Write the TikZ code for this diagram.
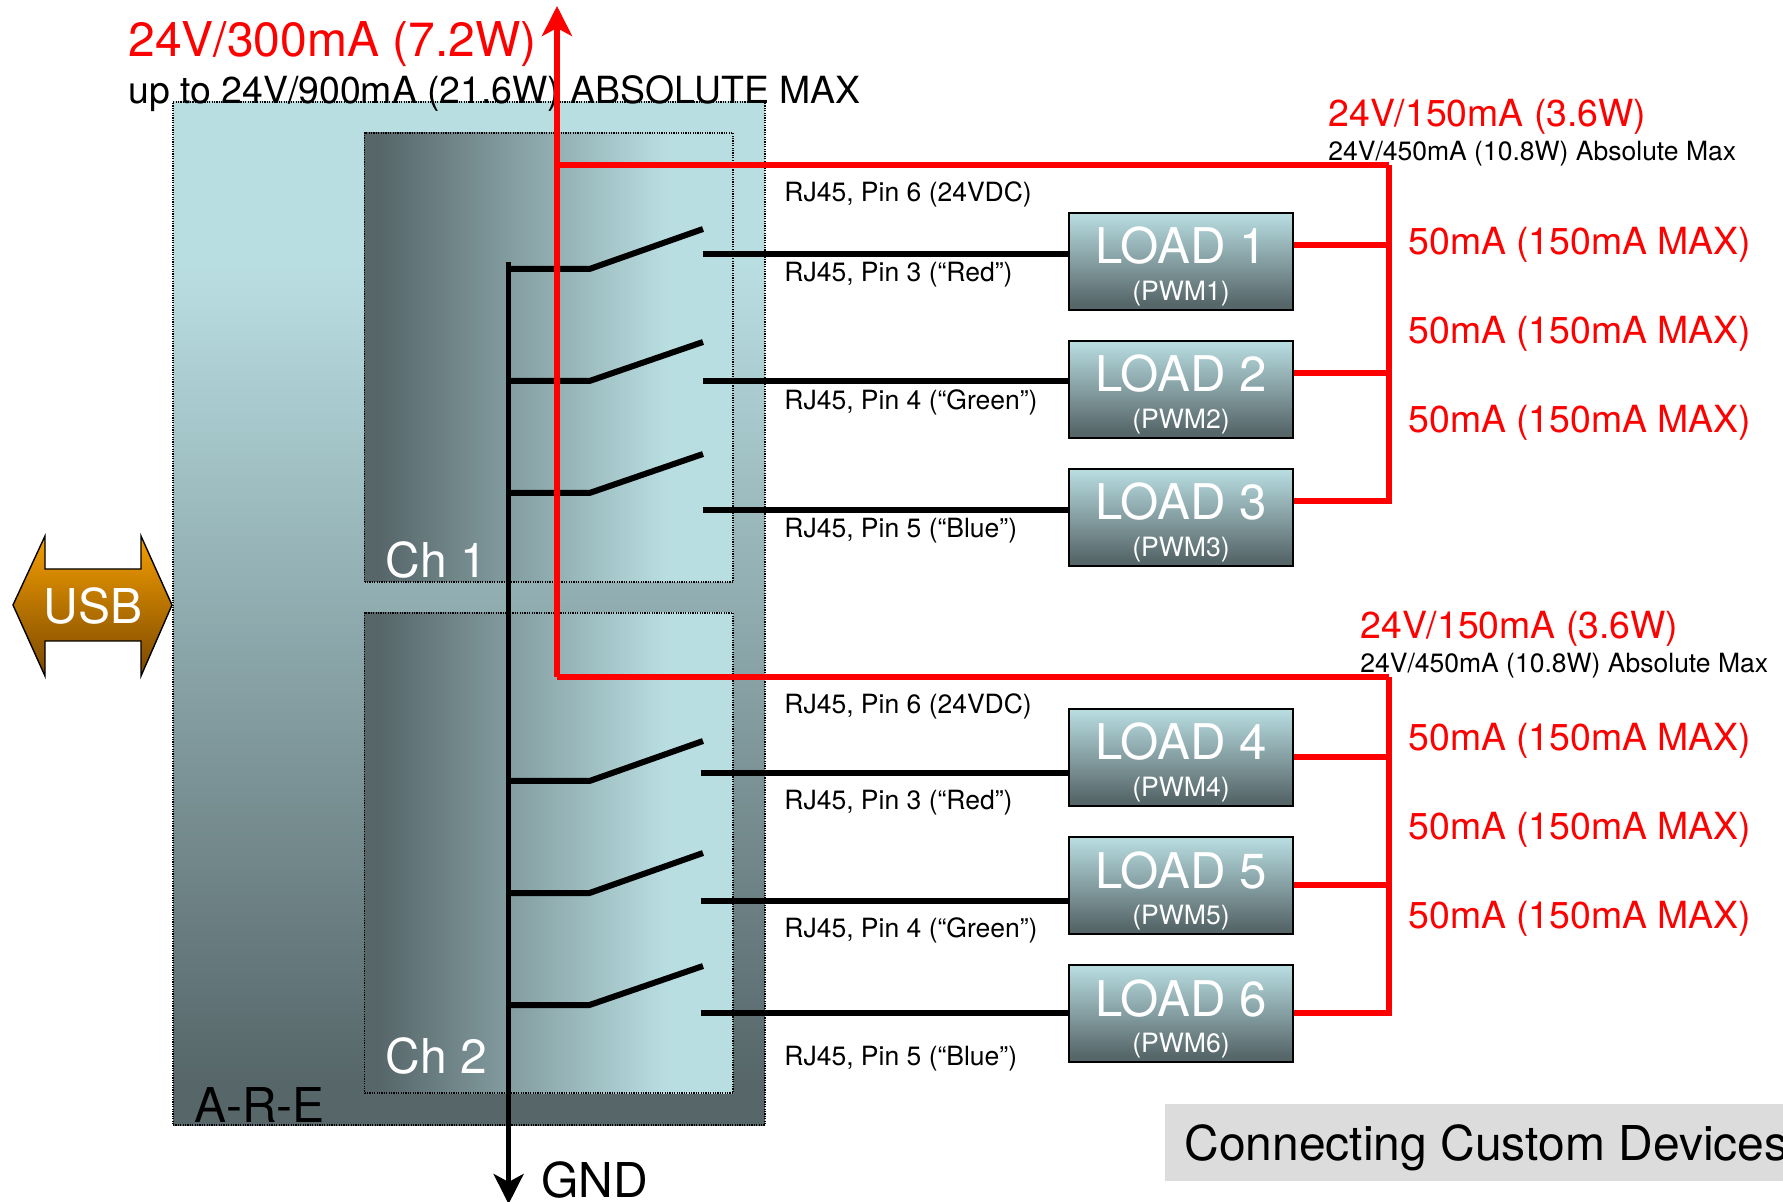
\documentclass[tikz,border=0pt]{standalone}
\usepackage{fontspec}
\setmainfont{TeX Gyre Heros}
\usetikzlibrary{arrows.meta}
\definecolor{lt}{HTML}{B9DEE2}
\definecolor{dk}{HTML}{566669}
\definecolor{usbt}{HTML}{F59E00}
\definecolor{usbb}{HTML}{7A4800}
\definecolor{redw}{HTML}{FF0000}
\definecolor{titlegray}{HTML}{DCDCDC}
% a shading's visible part is its central 25bp..75bp
\pgfdeclareverticalshading{arev}{100bp}{color(0bp)=(dk); color(27bp)=(dk); color(67bp)=(lt); color(100bp)=(lt)}
\pgfdeclarehorizontalshading{chh}{100bp}{color(0bp)=(dk); color(27bp)=(dk); color(66bp)=(lt); color(100bp)=(lt)}
\pgfdeclareverticalshading{loadv}{100bp}{color(0bp)=(dk); color(28bp)=(dk); color(75bp)=(lt); color(100bp)=(lt)}
\pgfdeclareverticalshading{usbv}{100bp}{color(0bp)=(usbb); color(25bp)=(usbb); color(75bp)=(usbt); color(100bp)=(usbt)}
\tikzset{
  boxdot/.style={rectangle,inner sep=0pt,draw=black,line width=0.7pt,dash pattern=on 0.6pt off 0.6pt},
  arebox/.style={boxdot,shading=arev,minimum width=296pt,minimum height=511.5pt},
  chbox/.style={boxdot,shading=chh,minimum width=184.25pt},
  loadbox/.style={rectangle,inner sep=0pt,draw=black,line width=1pt,shading=loadv,minimum width=112pt,minimum height=48.5pt},
  lbl/.style={inner sep=0pt,anchor=base west},
  big/.style={lbl,font=\fontsize{24}{28}\selectfont},
  mid/.style={lbl,font=\fontsize{18.7}{22}\selectfont},
  small/.style={lbl,font=\fontsize{13.25}{16}\selectfont},
  loadname/.style={inner sep=0pt,anchor=base,text=white,font=\fontsize{24.6}{28}\selectfont},
  loadpwm/.style={inner sep=0pt,anchor=base,text=white,font=\fontsize{13.3}{16}\selectfont},
  redw/.style={draw=redw,line width=2.75pt,miter limit=10},
  blkw/.style={draw=black,line width=3pt,miter limit=10},
}
\begin{document}
\begin{tikzpicture}[x=0.5pt,y=-0.5pt]
\path[use as bounding box,clip] (0,0) rectangle (1783,1202);
% enclosures
\node[arebox] (are) at (469,613.5) {};
\node[chbox,minimum height=224.5pt] (ch1) at (548.75,357.5) {};
\node[chbox,minimum height=240pt] (ch2) at (548.75,853) {};
\node[big,text=white] (ch1t) at (385,578) {Ch 1};
\node[big,text=white] (ch2t) at (385,1073.5) {Ch 2};
\node[big] (aret) at (194,1122.5) {A-R-E};
% USB
\path[draw=black,line width=0.7pt,shading=usbv,miter limit=10]
  (13,605) -- (45,536) -- (45,569) -- (141,569) -- (141,536) -- (172,605)
  -- (141,676) -- (141,641) -- (45,641) -- (45,676) -- cycle;
\node[inner sep=0pt,anchor=base,text=white,font=\fontsize{24}{28}\selectfont] (usb) at (93,624) {USB};
% titles
\node[rectangle,inner sep=0pt,fill=titlegray,minimum width=309pt,minimum height=38.25pt] (titlebg) at (1474,1142.3) {};
\node[big] (title) at (1184,1160) {Connecting Custom Devices};
\node[big,text=redw] (ttop) at (128,56.5) {24V/300mA (7.2W)};
\node[mid] (tmax) at (128,104) {up to 24V/900mA (21.6W) ABSOLUTE MAX};
\node[mid,text=redw] (p1) at (1328,126.5) {24V/150mA (3.6W)};
\node[small] (p1m) at (1328,161) {24V/450mA (10.8W) Absolute Max};
\node[mid,text=redw] (p2) at (1360,639) {24V/150mA (3.6W)};
\node[small] (p2m) at (1360,673) {24V/450mA (10.8W) Absolute Max};
\foreach \n/\y in {a/255,b/344,c/433,d/751,e/840,f/928}
  \node[mid,text=redw] (ma\n) at (1408,\y) {50mA (150mA MAX)};
\node[small] (rj1) at (784,202) {RJ45, Pin 6 (24VDC)};
\node[small] (rj2) at (784,282) {RJ45, Pin 3 (“Red”)};
\node[small] (rj3) at (784,410) {RJ45, Pin 4 (“Green”)};
\node[small] (rj4) at (784,538) {RJ45, Pin 5 (“Blue”)};
\node[small] (rj5) at (784,714) {RJ45, Pin 6 (24VDC)};
\node[small] (rj6) at (784,810) {RJ45, Pin 3 (“Red”)};
\node[small] (rj7) at (784,937.5) {RJ45, Pin 4 (“Green”)};
\node[small] (rj8) at (784,1065.5) {RJ45, Pin 5 (“Blue”)};
\node[big] (gnd) at (541,1197.5) {GND};
% loads
\foreach \n/\y in {1/261.5,2/389.5,3/517.5,4/757.5,5/885.5,6/1013.5}{
  \node[loadbox] (L\n) at (1180.5,\y) {};
  \node[loadname] (L\n t) at (1181,\y+2.5) {LOAD \n};
  \node[loadpwm] (L\n p) at (1181,\y+39) {(PWM\n)};
}
% coordinates
\coordinate (gtop) at (508.6,262);
\coordinate (gbot) at (508.6,1204);
\coordinate (rtip) at (557,6);
\coordinate (rb1) at (557,165);
\coordinate (rb2) at (557,677);
\coordinate (rr1) at (1389,165);
\coordinate (rr2) at (1389,677);
% black wiring
\draw[draw=black,line width=2.4pt,-{Stealth[length=15pt,width=15pt,inset=4pt]}] (gtop) -- (gbot);
\foreach \n/\hy/\ty/\wy/\wx in {1/269/229/254/703,2/381/342/381/703,3/493/454/510/703,4/781/741/773.5/701,5/893/853/901/701,6/1005/966/1013/701}{
  \coordinate (h\n) at (508.6,\hy);
  \coordinate (k\n) at (589.5,\hy);
  \coordinate (t\n) at (703,\ty);
  \coordinate (w\n) at (\wx,\wy);
  \draw[blkw] (h\n) -- (k\n) -- (t\n);
  \draw[blkw] (w\n) -- (L\n.west |- w\n);
}
% red wiring
\draw[redw,-{Stealth[length=15pt,width=15pt,inset=4pt]}] (rb2) -- (rtip);
\draw[redw] (rb1) -- (rr1);
\draw[redw] (rb2) -- (rr2);
\coordinate (s1) at (1389,245);
\coordinate (s2) at (1389,373);
\coordinate (s3) at (1389,501);
\coordinate (s4) at (1389,757);
\coordinate (s5) at (1389,885);
\coordinate (s6) at (1389,1013);
\draw[redw] (rr1) -- (s3) -- (L3.east |- s3);
\draw[redw] (rr2) -- (s6) -- (L6.east |- s6);
\foreach \n in {1,2,4,5}
  \draw[redw] (L\n.east |- s\n) -- (s\n);
\end{tikzpicture}
\end{document}
